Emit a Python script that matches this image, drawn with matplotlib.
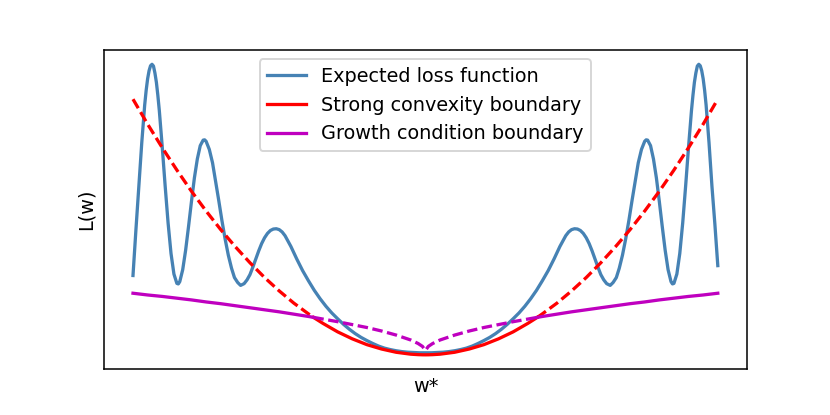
import numpy as np
import matplotlib
matplotlib.use("Agg")
import matplotlib.pyplot as plt

# expected loss (left half then right half)
loss_x_left = [-1.00, -0.99, -0.98, -0.97, -0.96, -0.955, -0.95, -0.945, -0.94, -0.935,
               -0.93, -0.925, -0.92, -0.915, -0.91, -0.90, -0.89, -0.88, -0.87, -0.86,
               -0.85, -0.845, -0.84, -0.83, -0.82, -0.81, -0.80, -0.79, -0.78, -0.77,
               -0.76, -0.755, -0.75, -0.739, -0.728, -0.718, -0.707, -0.696, -0.685, -0.674,
               -0.663, -0.653, -0.642, -0.632, -0.62, -0.61, -0.60, -0.59, -0.58, -0.57,
               -0.56, -0.55, -0.54, -0.53, -0.52, -0.51, -0.50, -0.49, -0.48, -0.46,
               -0.44, -0.42, -0.40, -0.38, -0.36, -0.34, -0.32, -0.30, -0.28, -0.26,
               -0.24, -0.22, -0.20, -0.18, -0.16, -0.14, -0.12, -0.10, -0.08, -0.06,
               -0.04, -0.02, 0.00]
loss_y_left = [0.273, 0.43, 0.58, 0.73, 0.86, 0.91, 0.95, 0.978, 0.995, 1.000,
               0.994, 0.970, 0.938, 0.893, 0.841, 0.716, 0.581, 0.454, 0.349, 0.278,
               0.246, 0.244, 0.252, 0.293, 0.360, 0.442, 0.528, 0.609, 0.674, 0.720,
               0.739, 0.740, 0.735, 0.707, 0.661, 0.600, 0.533, 0.463, 0.399, 0.343,
               0.298, 0.266, 0.249, 0.239, 0.245, 0.258, 0.276, 0.302, 0.330, 0.358,
               0.383, 0.403, 0.418, 0.428, 0.433, 0.434, 0.431, 0.423, 0.410, 0.373,
               0.330, 0.290, 0.255, 0.222, 0.193, 0.167, 0.144, 0.124, 0.105, 0.088,
               0.073, 0.060, 0.049, 0.039, 0.030, 0.023, 0.018, 0.014, 0.011, 0.009,
               0.008, 0.007, 0.007]
loss_x_right = [0.02, 0.04, 0.06, 0.08, 0.10, 0.12, 0.14, 0.16, 0.18, 0.20,
                0.22, 0.24, 0.26, 0.28, 0.30, 0.32, 0.34, 0.36, 0.38, 0.40,
                0.42, 0.44, 0.46, 0.48, 0.49, 0.50, 0.51, 0.52, 0.53, 0.54,
                0.55, 0.56, 0.57, 0.58, 0.59, 0.60, 0.61, 0.62, 0.632, 0.642,
                0.653, 0.663, 0.674, 0.685, 0.696, 0.707, 0.718, 0.728, 0.739, 0.75,
                0.755, 0.76, 0.77, 0.78, 0.79, 0.80, 0.81, 0.82, 0.83, 0.84,
                0.845, 0.85, 0.86, 0.87, 0.88, 0.89, 0.90, 0.91, 0.915, 0.92,
                0.925, 0.93, 0.935, 0.94, 0.945, 0.95, 0.955, 0.96, 0.97, 0.98,
                0.99, 1.00]
loss_y_right = [0.007, 0.008, 0.009, 0.011, 0.014, 0.018, 0.023, 0.030, 0.039, 0.049,
                0.060, 0.073, 0.088, 0.105, 0.124, 0.144, 0.167, 0.193, 0.222, 0.255,
                0.290, 0.330, 0.373, 0.410, 0.423, 0.431, 0.434, 0.433, 0.428, 0.418,
                0.403, 0.383, 0.358, 0.330, 0.302, 0.276, 0.258, 0.245, 0.239, 0.249,
                0.266, 0.298, 0.343, 0.399, 0.463, 0.533, 0.600, 0.661, 0.707, 0.735,
                0.740, 0.739, 0.720, 0.674, 0.609, 0.528, 0.442, 0.360, 0.293, 0.252,
                0.244, 0.246, 0.278, 0.349, 0.454, 0.581, 0.716, 0.841, 0.893, 0.938,
                0.970, 0.994, 1.000, 0.995, 0.978, 0.95, 0.91, 0.86, 0.73, 0.58,
                0.45, 0.307]

# boundaries on a common grid
w = [-1.00, -0.95, -0.90, -0.85, -0.80, -0.75, -0.70, -0.65, -0.60, -0.55,
     -0.50, -0.45, -0.40, -0.383, -0.35, -0.30, -0.25, -0.20, -0.15, -0.10,
     -0.05, -0.025, -0.01, 0.00, 0.01, 0.025, 0.05, 0.10, 0.15, 0.20,
     0.25, 0.30, 0.35, 0.383, 0.40, 0.45, 0.50, 0.55, 0.60, 0.65,
     0.70, 0.75, 0.80, 0.85, 0.90, 0.95, 1.00]
strong_convex = [0.880, 0.794, 0.713, 0.636, 0.563, 0.495, 0.431, 0.372, 0.317, 0.266,
                 0.220, 0.178, 0.141, 0.129, 0.108, 0.079, 0.055, 0.035, 0.020, 0.0088,
                 0.0022, 0.0006, 0.0001, 0.000, 0.0001, 0.0006, 0.0022, 0.0088, 0.020, 0.035,
                 0.055, 0.079, 0.108, 0.129, 0.141, 0.178, 0.220, 0.266, 0.317, 0.372,
                 0.431, 0.495, 0.563, 0.636, 0.713, 0.794, 0.880]
growth = [0.212, 0.206, 0.201, 0.195, 0.189, 0.182, 0.176, 0.169, 0.162, 0.155,
          0.148, 0.140, 0.132, 0.129, 0.123, 0.114, 0.104, 0.094, 0.082, 0.068,
          0.051, 0.039, 0.029, 0.015, 0.029, 0.039, 0.051, 0.068, 0.082, 0.094,
          0.104, 0.114, 0.123, 0.129, 0.132, 0.140, 0.148, 0.155, 0.162, 0.169,
          0.176, 0.182, 0.189, 0.195, 0.201, 0.206, 0.212]

w = np.array(w)
sc = np.array(strong_convex)
gr = np.array(growth)
tol = 1e-3
inner = sc <= gr + tol   # strong convexity is the tighter (lower) bound here
outer = sc >= gr - tol

LW = 1.7
DASH = (3.2, 1.4)

fig, ax = plt.subplots(figsize=(6, 3))

ax.plot(loss_x_left + loss_x_right, loss_y_left + loss_y_right,
        color="steelblue", lw=LW, label="Expected loss function")
ax.plot(w, np.where(inner, sc, np.nan), color="r", lw=LW,
        label="Strong convexity boundary")
ax.plot(w, np.where(outer, sc, np.nan), color="r", lw=LW, ls="--", dashes=DASH)
ax.plot(w, np.where(outer, gr, np.nan), color="m", lw=LW,
        label="Growth condition boundary")
ax.plot(w, np.where(inner, gr, np.nan), color="m", lw=LW, ls="--", dashes=DASH)

ax.set_xticks([])
ax.set_yticks([])
ax.set_xlabel("w*")
ax.set_ylabel("L(w)")
ax.legend(loc="upper center")

fig.savefig("out.png", dpi=138.34)
